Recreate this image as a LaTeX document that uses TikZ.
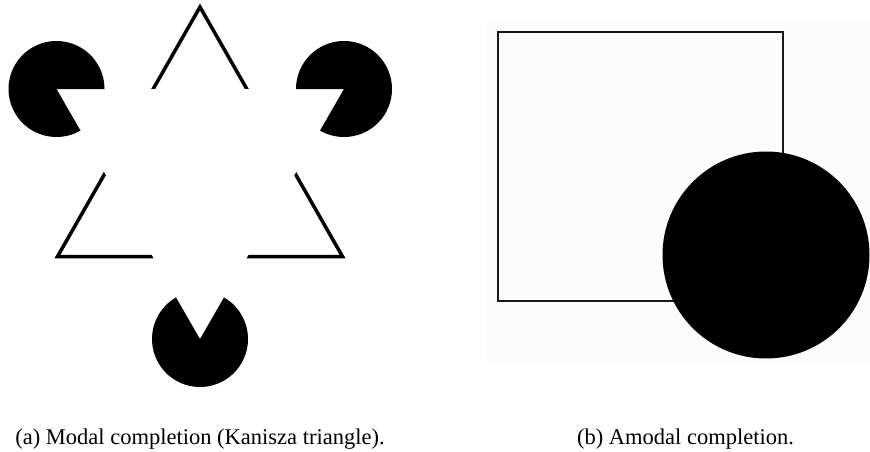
\documentclass[tikz,border=0pt]{standalone}
\usepackage{fontspec}
\setmainfont{Liberation Serif}
\definecolor{scanbg}{RGB}{252,252,252}
\tikzset{
  outline/.style={line width=3.5pt, line join=miter},
  pac/.style={fill=black, draw=none},
  sqline/.style={line width=2.2pt, draw=black!90},
  caption/.style={anchor=base, inner sep=0pt, font=\fontsize{22.5}{27}\selectfont}
}
\begin{document}
\begin{tikzpicture}[x=1pt,y=-1pt]
\useasboundingbox (0,0) rectangle (870,452);
% ---------- (a) Kanizsa triangle ----------
\coordinate (apex) at (200,7);
\coordinate (bl) at (57.5,256.5);
\coordinate (br) at (342.5,256.5);
\coordinate (pA) at (56.5,89);
\coordinate (pB) at (344,89);
\coordinate (pC) at (200,339);
% outline triangle
\draw[outline] (apex) -- (bl) -- (br) -- cycle;
% illusory white triangle occludes the outline
\fill[white] (pA) -- (pB) -- (pC) -- cycle;
% pac-men
\fill[pac] (pA) -- ++(60:48) arc[start angle=60, end angle=360, radius=48] -- cycle;
\fill[pac] (pB) -- ++(180:48) arc[start angle=180, end angle=480, radius=48] -- cycle;
\fill[pac] (pC) -- ++(300:48) arc[start angle=300, end angle=600, radius=48] -- cycle;
% ---------- (b) amodal completion ----------
\fill[scanbg] (487,20) rectangle (870,363);
\coordinate (sqA) at (498.3,31.7);
\coordinate (sqB) at (782.7,301);
\draw[sqline] (sqA) rectangle (sqB);
\coordinate (disc) at (766,255);
\fill[black] (disc) circle[radius=103.5];
% ---------- captions ----------
\node[caption] (capA) at (200,444) {(a) Modal completion (Kanisza triangle).};
\node[caption] (capB) at (685.5,444) {(b) Amodal completion.};
\end{tikzpicture}
\end{document}
